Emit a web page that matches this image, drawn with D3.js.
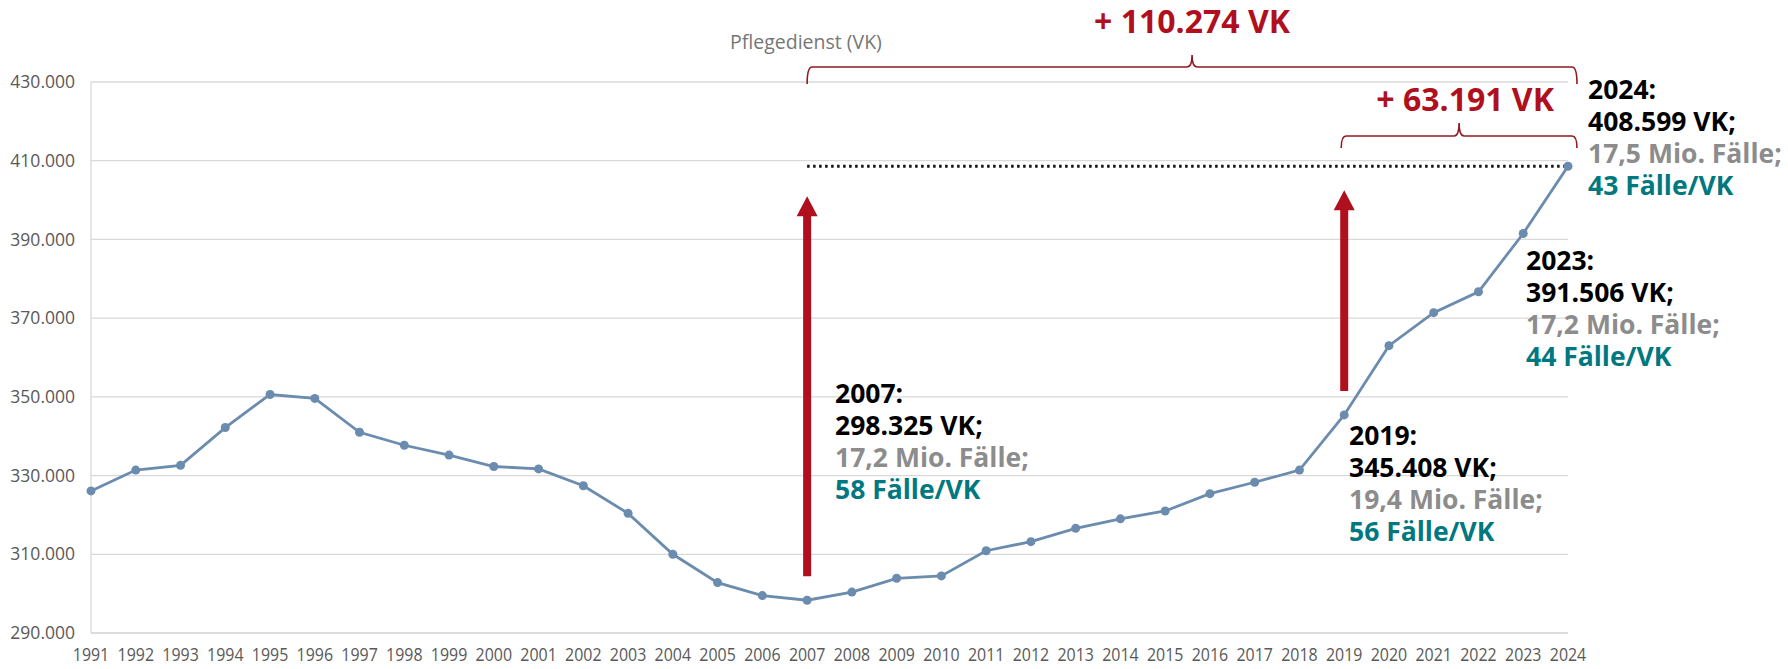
<!DOCTYPE html>
<html><head><meta charset="utf-8">
<script src="https://cdn.jsdelivr.net/npm/d3@7"></script>
<style>
html,body{margin:0;padding:0;background:#fff;}
svg{display:block;}
</style></head>
<body>
<svg id="chart" width="1788" height="669"></svg>
<script>
// ---- data ----
const years = [1991,1992,1993,1994,1995,1996,1997,1998,1999,2000,2001,2002,2003,2004,2005,2006,2007,2008,2009,2010,2011,2012,2013,2014,2015,2016,2017,2018,2019,2020,2021,2022,2023,2024];
const staffVK = [326100,331400,332600,342200,350600,349600,341000,337700,335200,332300,331700,327400,320400,310000,302800,299500,298325,300400,303900,304500,310900,313200,316600,319000,321000,325400,328300,331400,345408,363000,371400,376700,391506,408599];
const yTicks = [290000,310000,330000,350000,370000,390000,410000,430000];
const yDomain = [290000,430000];
const axisTitle = "Pflegedienst (VK)";
const diffLabels = ["+ 110.274 VK","+ 63.191 VK"];
const callouts = [
  {year:2007, lines:["2007:","298.325 VK;","17,2 Mio. Fälle;","58 Fälle/VK"]},
  {year:2019, lines:["2019:","345.408 VK;","19,4 Mio. Fälle;","56 Fälle/VK"]},
  {year:2023, lines:["2023:","391.506 VK;","17,2 Mio. Fälle;","44 Fälle/VK"]},
  {year:2024, lines:["2024:","408.599 VK;","17,5 Mio. Fälle;","43 Fälle/VK"]}
];

// ---- layout ----
const svg = d3.select("#chart");
const x = d3.scalePoint().domain(years).range([91,1568]);
const y = d3.scaleLinear().domain(yDomain).range([633,82]);
const de = d3.formatLocale({decimal:",",thousands:".",grouping:[3],currency:["","€"]});
const fmt = de.format(",");
const RED = "#b0101e", BRACE = "#8e1a20", LINE = "#6b8cae", TEAL = "#00787f";
const FONT = "'Open Sans', sans-serif";

// gridlines
svg.append("g").selectAll("line").data(yTicks.slice(1)).join("line")
  .attr("x1",x(years[0])).attr("x2",x(years[years.length-1]))
  .attr("y1",d=>y(d)).attr("y2",d=>y(d))
  .attr("stroke","#d9d9d9").attr("stroke-width",1.3);
// axes lines
svg.append("line").attr("x1",x(years[0])).attr("x2",x(years[years.length-1]))
  .attr("y1",y(yDomain[0])).attr("y2",y(yDomain[0])).attr("stroke","#d0d0d0").attr("stroke-width",1.5);
svg.append("line").attr("x1",x(years[0])).attr("x2",x(years[0]))
  .attr("y1",y(yDomain[0])).attr("y2",y(yDomain[1])).attr("stroke","#d9d9d9").attr("stroke-width",1.3);

// y tick labels
svg.append("g").selectAll("text").data(yTicks).join("text")
  .attr("x",75).attr("y",d=>y(d)).attr("dy","0.35em")
  .attr("text-anchor","end").attr("font-family",FONT).attr("font-size",17.5)
  .attr("fill","#595959").text(d=>fmt(d));
// x tick labels (condensed look)
svg.append("g").selectAll("text").data(years).join("text")
  .attr("transform",d=>`translate(${x(d)},661) scale(0.84,1)`)
  .attr("text-anchor","middle").attr("font-family",FONT).attr("font-size",19)
  .attr("fill","#595959").text(d=>d);

// axis title
svg.append("text").attr("x",730).attr("y",49).attr("font-family",FONT).attr("font-size",19.5)
  .attr("fill","#767676").text(axisTitle);

// dotted reference line
const last = staffVK[staffVK.length-1];
svg.append("line").attr("x1",x(2007)).attr("x2",x(2024))
  .attr("y1",y(last)).attr("y2",y(last))
  .attr("stroke","#111").attr("stroke-width",3).attr("stroke-dasharray","2.5,3.5");

// data line
const data = years.map((yr,i)=>({yr,v:staffVK[i]}));
svg.append("path").datum(data)
  .attr("d",d3.line().x(d=>x(d.yr)).y(d=>y(d.v)))
  .attr("fill","none").attr("stroke",LINE).attr("stroke-width",2.8);
svg.append("g").selectAll("circle").data(data).join("circle")
  .attr("cx",d=>x(d.yr)).attr("cy",d=>y(d.v)).attr("r",4.5).attr("fill",LINE);

// arrows
function arrow(yr, gapBottom, gapTop){
  const cx = x(yr);
  const v = staffVK[years.indexOf(yr)];
  const yb = y(v)-gapBottom, yt = y(last)+gapTop;
  const hl = 20, hw = 10.5, sw = 4;
  const p = d3.path();
  p.moveTo(cx-sw,yb); p.lineTo(cx-sw,yt+hl); p.lineTo(cx-hw,yt+hl); p.lineTo(cx,yt);
  p.lineTo(cx+hw,yt+hl); p.lineTo(cx+sw,yt+hl); p.lineTo(cx+sw,yb); p.closePath();
  svg.append("path").attr("d",p.toString()).attr("fill",RED);
}
arrow(2007,24,30);
arrow(2019,24,24);

// braces
function brace(x1,x2,h,e,t){
  const xm=(x1+x2)/2, r=5;
  const p = d3.path();
  p.moveTo(x1,e); p.quadraticCurveTo(x1,h,x1+r,h); p.lineTo(xm-r,h);
  p.quadraticCurveTo(xm,h,xm,t); p.quadraticCurveTo(xm,h,xm+r,h);
  p.lineTo(x2-r,h); p.quadraticCurveTo(x2,h,x2,e);
  svg.append("path").attr("d",p.toString()).attr("fill","none")
    .attr("stroke",BRACE).attr("stroke-width",1.6);
  return xm;
}
const m1 = brace(x(2007),x(2024)+9,67,84,55);
const m2 = brace(x(2019)-3,x(2024)+9,136,148,123);
svg.append("text").attr("x",m1).attr("y",33).attr("text-anchor","middle")
  .attr("font-family",FONT).attr("font-weight",700).attr("font-size",32).attr("fill",RED).text(diffLabels[0]);
svg.append("text").attr("x",m2+6).attr("y",111).attr("text-anchor","middle")
  .attr("font-family",FONT).attr("font-weight",700).attr("font-size",32).attr("fill",RED).text(diffLabels[1]);

// callouts
const calloutPos = {2007:[835,403],2019:[1349,445],2023:[1526,270],2024:[1588,99]};
const lineColors = ["#000","#000","#8c8c8c",TEAL];
callouts.forEach(c=>{
  const [cx,cy] = calloutPos[c.year];
  const g = svg.append("g");
  c.lines.forEach((s,i)=>{
    g.append("text").attr("x",cx).attr("y",cy+i*32)
      .attr("font-family",FONT).attr("font-weight",700).attr("font-size",26.5)
      .attr("fill",lineColors[i]).text(s);
  });
});
</script>
</body></html>
